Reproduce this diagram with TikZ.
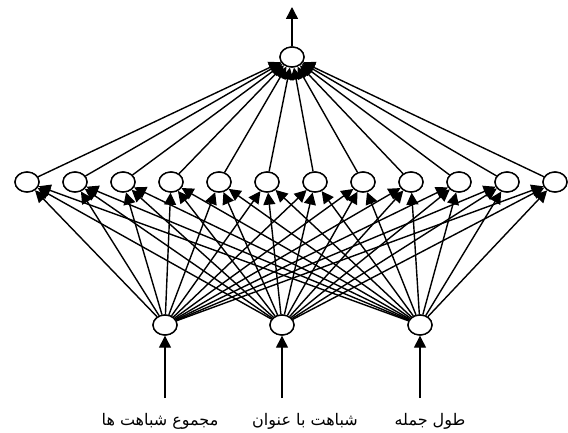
\documentclass[tikz,border=0pt]{standalone}
\usepackage{fontspec}
\usetikzlibrary{shapes.geometric,arrows.meta}
\TeXXeTstate=1
\newfontfamily\arabicfont[Script=Arabic]{DejaVu Sans}
\tikzset{
  neuron/.style={draw, ellipse, line width=1.4pt, minimum width=24pt, minimum height=20pt, inner sep=0pt, fill=white},
  link/.style={line width=1.4pt, -{Triangle[length=12pt,width=12pt]}},
  lbl/.style={font=\arabicfont\fontsize{16}{18}\selectfont, inner sep=0pt}
}
\begin{document}
\begin{tikzpicture}[x=1pt,y=-1pt]
\useasboundingbox (0,0) rectangle (568,433);
% output neuron and its outgoing arrow
\node[neuron] (o) at (292,57) {};
\coordinate (out) at (292,7);
% hidden layer
\foreach \i in {1,...,12} {
  \node[neuron] (h\i) at ({27+48*(\i-1)},182) {};
}
% input layer
\node[neuron] (i1) at (165,325) {};
\node[neuron] (i2) at (282,325) {};
\node[neuron] (i3) at (420,325) {};
\coordinate (s1) at (165,398);
\coordinate (s2) at (282,398);
\coordinate (s3) at (420,398);
% connections
\foreach \j in {1,2,3} {
  \foreach \i in {1,...,12} {
    \draw[link] (i\j) -- (h\i);
  }
  \draw[link] (s\j) -- (i\j);
}
\foreach \i in {1,...,12} {
  \draw[link] (h\i) -- (o);
}
\draw[link] (o) -- (out);
% redraw neurons on top
\foreach \i in {1,...,12} {
  \node[neuron] at ({27+48*(\i-1)},182) {};
}
\node[neuron] at (292,57) {};
\node[neuron] at (165,325) {};
\node[neuron] at (282,325) {};
\node[neuron] at (420,325) {};
% input labels
\node[lbl] (t1) at (160,421) {\beginR مجموع شباهت ها\endR};
\node[lbl] (t2) at (305,421) {\beginR شباهت با عنوان\endR};
\node[lbl] (t3) at (430,421) {\beginR طول جمله\endR};
\end{tikzpicture}
\end{document}
